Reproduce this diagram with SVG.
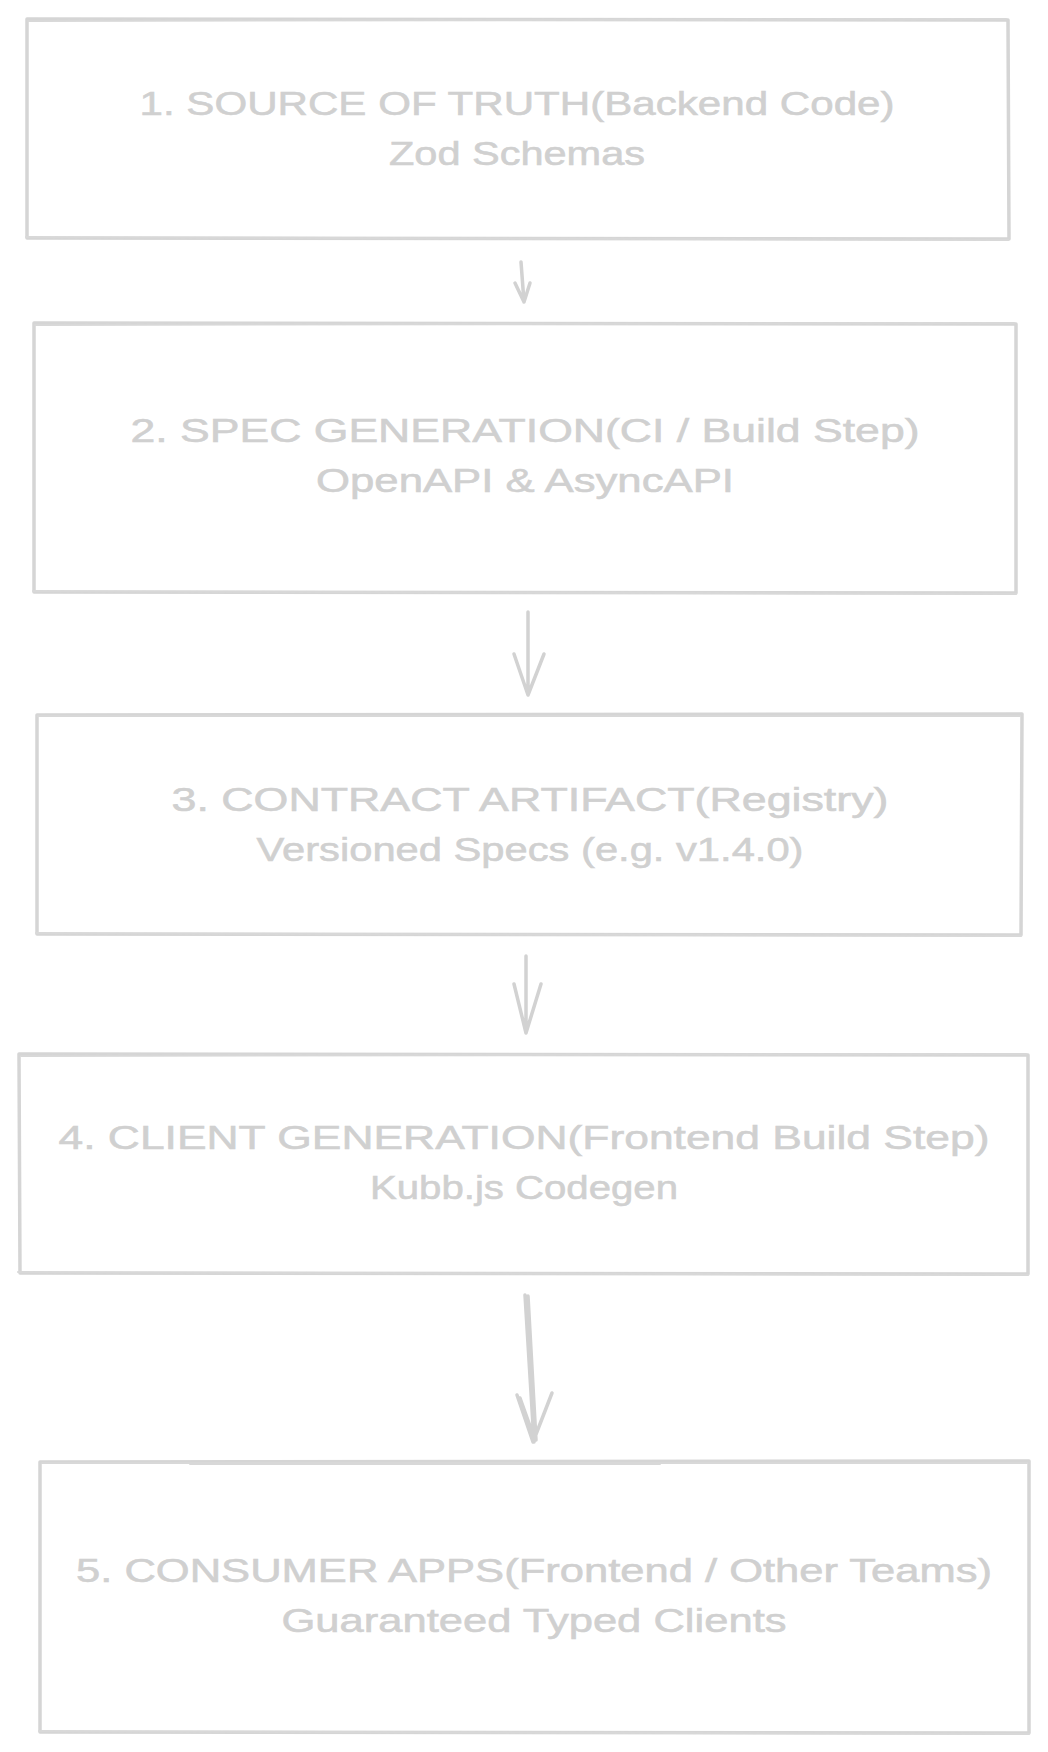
<svg xmlns="http://www.w3.org/2000/svg" width="1048" height="1752" viewBox="0 0 1048 1752">
<style>
.box{fill:none;stroke:#d5d5d5;stroke-width:3.5;stroke-linecap:round;stroke-linejoin:round}
.box2{fill:none;stroke:#d8d8d8;stroke-width:2;stroke-linecap:round}
.t{font-family:"Liberation Sans",Arial,sans-serif;font-size:34px;fill:#d0d0d0;stroke:#d0d0d0;stroke-width:0.6;text-anchor:middle}
.c{fill:none;stroke:#d2d2d2;stroke-width:3.5;stroke-linecap:round;stroke-linejoin:round}
</style>
<rect width="1048" height="1752" fill="#ffffff"/>
<g id="node1">
<path class="box" d="M27 19 L1008 20 L1009 239 L27 238 Z"/>
<path class="box2" d="M28 21 L1006 19 M26 237 L1008 240"/>
<text class="t" x="517" y="115" textLength="755" lengthAdjust="spacingAndGlyphs">1. SOURCE OF TRUTH(Backend Code)</text>
<text class="t" x="517" y="165" textLength="256" lengthAdjust="spacingAndGlyphs">Zod Schemas</text>
</g>
<g id="node2">
<path class="box" d="M34 323 L1016 324 L1016 593 L34 592 Z"/>
<path class="box2" d="M35 325 L1014 323 M33 591 L1016 594"/>
<text class="t" x="525" y="442" textLength="789" lengthAdjust="spacingAndGlyphs">2. SPEC GENERATION(CI / Build Step)</text>
<text class="t" x="525" y="492" textLength="418" lengthAdjust="spacingAndGlyphs">OpenAPI &amp; AsyncAPI</text>
</g>
<g id="node3">
<path class="box" d="M37 715 L1022 714 L1021 935 L37 934 Z"/>
<path class="box2" d="M38 716 L1020 716 M36 933 L1021 936"/>
<text class="t" x="530" y="811" textLength="717" lengthAdjust="spacingAndGlyphs">3. CONTRACT ARTIFACT(Registry)</text>
<text class="t" x="530" y="861" textLength="547" lengthAdjust="spacingAndGlyphs">Versioned Specs (e.g. v1.4.0)</text>
</g>
<g id="node4">
<path class="box" d="M19 1054 L1028 1055 L1028 1274 L20 1273 Z"/>
<path class="box2" d="M21 1056 L1026 1054 M18 1272 L1028 1275"/>
<text class="t" x="524" y="1149" textLength="931" lengthAdjust="spacingAndGlyphs">4. CLIENT GENERATION(Frontend Build Step)</text>
<text class="t" x="524" y="1199" textLength="308" lengthAdjust="spacingAndGlyphs">Kubb.js Codegen</text>
</g>
<g id="node5">
<path class="box" d="M40 1462 L1029 1461 L1029 1733 L40 1732 Z"/>
<path class="box2" d="M42 1463 L1027 1463 M190 1464 L660 1464 M39 1731 L1029 1734"/>
<text class="t" x="534" y="1582" textLength="916" lengthAdjust="spacingAndGlyphs">5. CONSUMER APPS(Frontend / Other Teams)</text>
<text class="t" x="534" y="1632" textLength="505" lengthAdjust="spacingAndGlyphs">Guaranteed Typed Clients</text>
</g>
<g id="connectors">
<path class="c" d="M521 262 L524 302 M515 283 L524 302 L530 283"/>
<path class="c" d="M528 612 L528 695 M514 654 L528 695 L544 654"/>
<path class="c" d="M526 956 L526 1033 M514 984 L526 1033 L541 984"/>
<path class="c" d="M525 1295 L534 1442 M528 1296 L536 1440 M517 1395 L533 1442 L552 1393 M520 1398 L535 1440"/>
</g>
</svg>
